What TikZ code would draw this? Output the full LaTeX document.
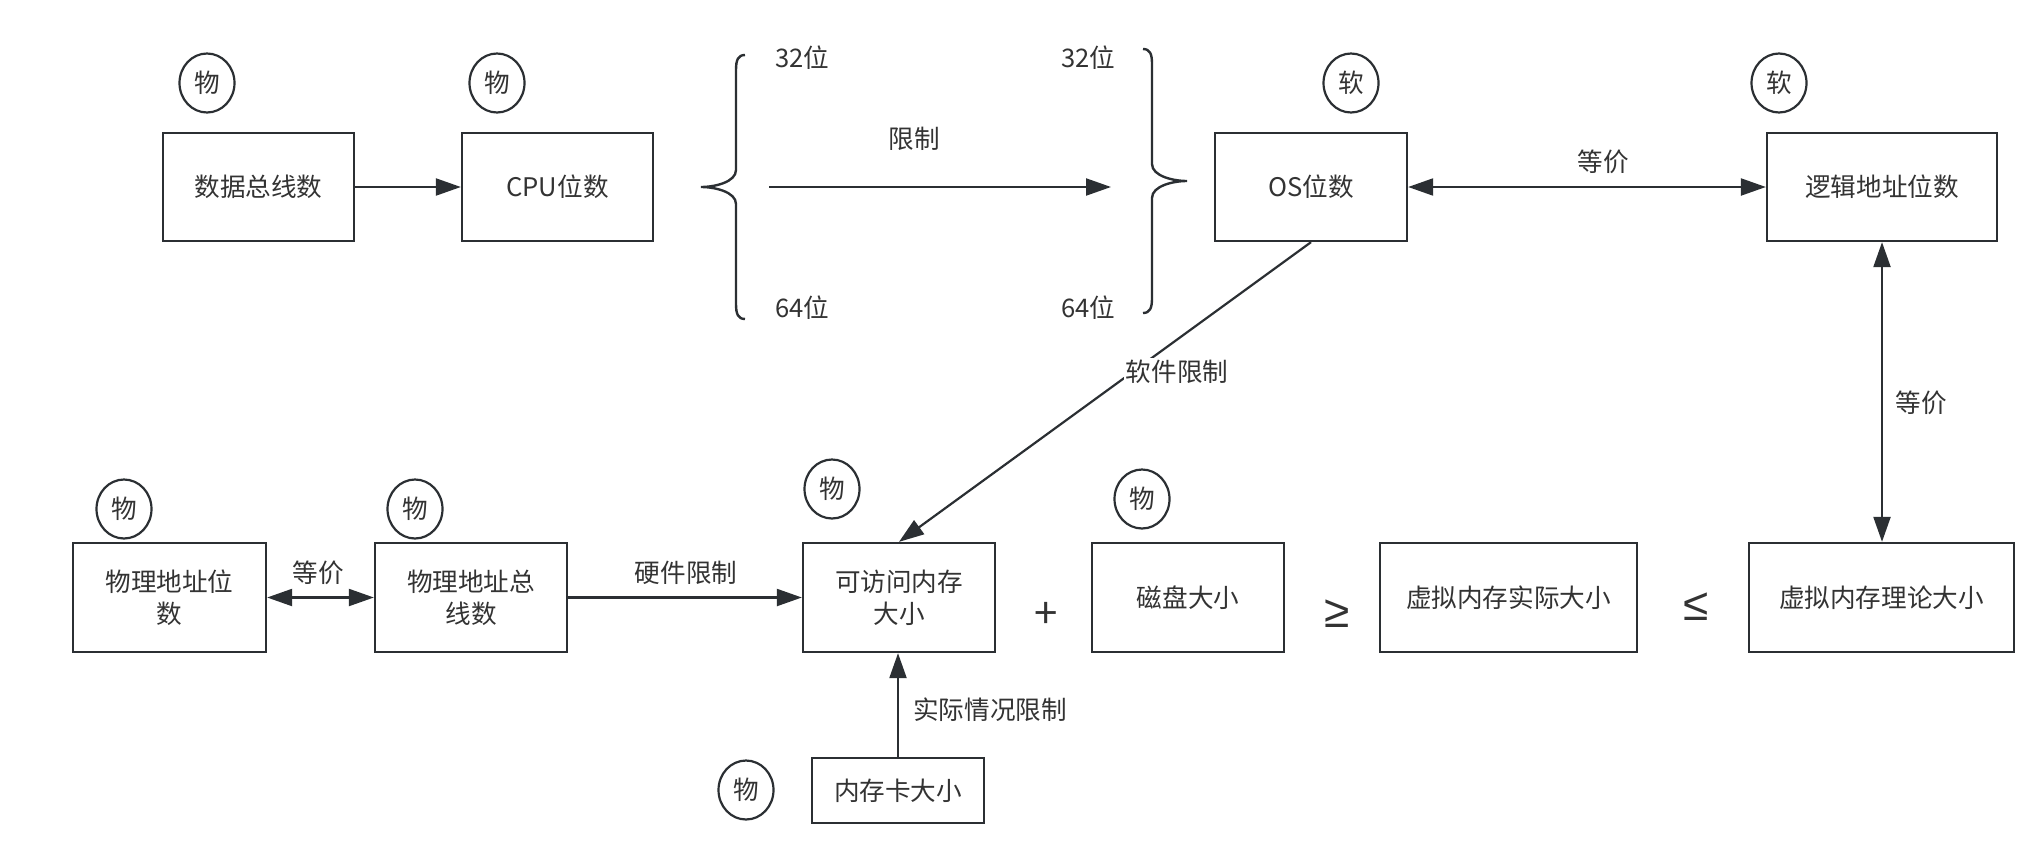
\documentclass[tikz,border=0pt]{standalone}
\usepackage{fontspec}
\setmainfont{Noto Sans CJK SC}
\newfontfamily\relfont{Liberation Sans}
\newcommand{\txtsz}{\fontsize{12.8}{16}\selectfont}
\newcommand{\bigsz}{\fontsize{21}{24}\selectfont}
\usepackage{xcolor}
\usepackage{tikz}
\usetikzlibrary{arrows.meta,positioning,shapes.geometric}
\definecolor{ink}{HTML}{333333}
\definecolor{edge}{HTML}{2B2F33}
\tikzset{
  blk/.style={draw=edge, line width=1.15pt, fill=white, minimum height=54pt,
              inner sep=2pt, align=center, font=\txtsz, text=ink},
  tag/.style={ellipse, draw=edge, line width=1.1pt, minimum width=27.5pt,
              minimum height=29.5pt, inner sep=0pt, font=\txtsz, text=ink},
  ar/.style={-{Triangle[length=12.5pt,width=8.5pt]}, line width=1.1pt, draw=edge},
  dar/.style={ar, {Triangle[length=12.5pt,width=8.5pt]}-{Triangle[length=12.5pt,width=8.5pt]}},
  lbl/.style={font=\txtsz, text=ink, inner sep=1pt},
  cmp/.style={font=\bigsz, text=ink},
  rel/.style={font=\relfont\fontsize{23}{26}\selectfont, text=ink},
  brc/.style={draw=edge, line width=1.2pt},
}
\begin{document}
\begin{tikzpicture}[x=0.5pt, y=-0.5pt]
  \useasboundingbox (0,0) rectangle (2028,851);

  % 上排
  \node[blk, minimum width=95.5pt] (nums)  at (258.5,187) {数据总线数};
  \node[blk, minimum width=95.5pt] (cpu)   at (557.5,187) {CPU位数};
  \node[blk, minimum width=96pt]   (os)    at (1311,187)  {OS位数};
  \node[blk, minimum width=115pt]  (logic) at (1882,187)  {逻辑地址位数};

  \node[tag] (t-nums)  at (207,83)  {物};
  \node[tag] (t-cpu)   at (497,83)  {物};
  \node[tag] (t-os)    at (1351,83) {软};
  \node[tag] (t-logic) at (1779,83) {软};

  % 大括号
  \draw[brc] (745,55) .. controls (738,55) and (736,60) .. (736,70) -- (736,170)
     .. controls (736,182) and (715,187) .. (701,187)
     .. controls (715,187) and (736,192) .. (736,204) -- (736,304)
     .. controls (736,314) and (738,319) .. (745,319);
  \draw[brc] (1143,49) .. controls (1150,49) and (1152,54) .. (1152,64) -- (1152,164)
     .. controls (1152,176) and (1173,181) .. (1187,181)
     .. controls (1173,181) and (1152,186) .. (1152,198) -- (1152,298)
     .. controls (1152,308) and (1150,313) .. (1143,313);
  \node[lbl] (b32l) at (802,58)   {32位};
  \node[lbl] (b64l) at (802,308)  {64位};
  \node[lbl] (b32r) at (1088,58)  {32位};
  \node[lbl] (b64r) at (1088,308) {64位};
  \coordinate (lim-a) at (769,187);
  \coordinate (lim-b) at (1111,187);

  % 下排
  \node[blk, minimum width=96.5pt, minimum height=54.5pt] (paddr) at (169.5,597.5) {物理地址位\\数};
  \node[blk, minimum width=96pt,   minimum height=54.5pt] (pbus)  at (471,597.5)   {物理地址总\\线数};
  \node[blk, minimum width=96pt,   minimum height=54.5pt] (acc)   at (899,597.5)   {可访问内存\\大小};
  \node[blk, minimum width=96pt,   minimum height=54.5pt] (disk)  at (1188,597.5)  {磁盘大小};
  \node[blk, minimum width=128.5pt,minimum height=54.5pt] (vreal) at (1508.5,597.5) {虚拟内存实际大小};
  \node[blk, minimum width=132.5pt,minimum height=54.5pt] (vtheo) at (1881.5,597.5) {虚拟内存理论大小};
  \node[blk, minimum width=86pt,   minimum height=32.5pt] (mem)   at (898,790.5)   {内存卡大小};

  \node[tag] (t-paddr) at (124,509)  {物};
  \node[tag] (t-pbus)  at (415,509)  {物};
  \node[tag] (t-acc)   at (832,489)  {物};
  \node[tag] (t-disk)  at (1142,499) {物};
  \node[tag] (t-mem)   at (746,790)  {物};

  \node[cmp] (plus) at (1046,615) {+};
  \node[rel] (geq)  at (1337,614) {≥};
  \node[rel] (leq)  at (1696,607) {≤};

  % 连线
  \draw[ar]  (nums) -- (cpu);
  \draw[ar]  (lim-a) -- (lim-b);
  \draw[dar] (os) -- (logic);
  \draw[dar] (logic.south) -- (logic.south |- vtheo.north);
  \draw[ar]  (os.south) -- (acc.north);
  \draw[dar] (paddr) -- (pbus);
  \draw[ar]  (pbus) -- (acc);
  \draw[ar]  (mem.north) -- (mem.north |- acc.south);

  \node[lbl] (l-lim)  at (914,139)  {限制};
  \node[lbl] (l-eq1)  at (1603,162) {等价};
  \node[lbl] (l-eq2)  at (1921,403) {等价};
  \node[lbl, fill=white] (l-soft) at (1177,372) {软件限制};
  \node[lbl] (l-eq3)  at (318,573)  {等价};
  \node[lbl] (l-hard) at (686,573)  {硬件限制};
  \node[lbl] (l-real) at (990,710)  {实际情况限制};
\end{tikzpicture}
\end{document}
